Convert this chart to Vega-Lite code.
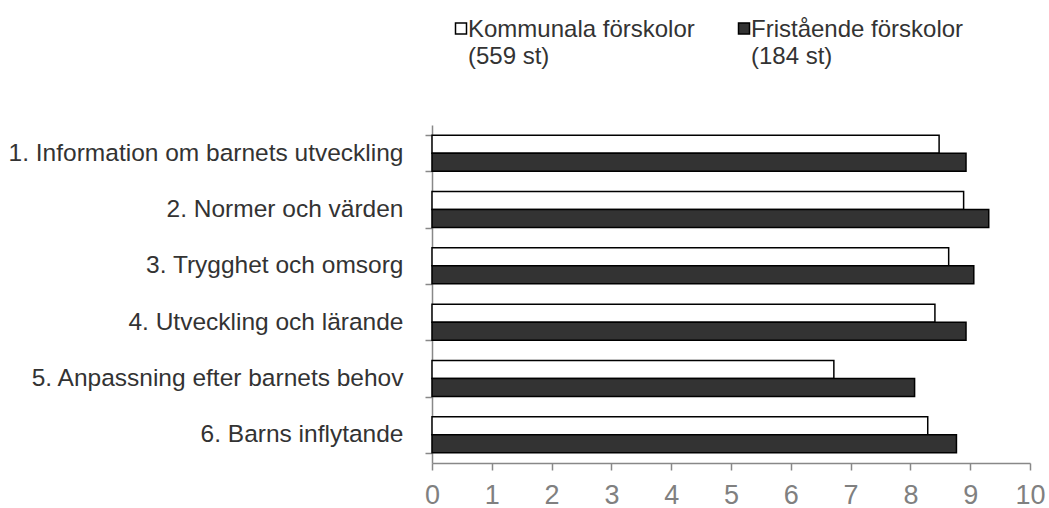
{
  "$schema": "https://vega.github.io/schema/vega-lite/v6.json",
  "width": 598,
  "height": 338,
  "autosize": {"type": "none"},
  "padding": {"left": 432, "top": 125, "right": 19, "bottom": 45},
  "background": "white",
  "config": {
    "view": {"stroke": null},
    "style": {"guide-label": {"lineHeight": 27}}
  },
  "data": {
    "values": [
      {"kategori": "1. Information om barnets utveckling", "grupp": "Kommunala förskolor|(559 st)", "varde": 8.48},
      {"kategori": "1. Information om barnets utveckling", "grupp": "Fristående förskolor|(184 st)", "varde": 8.93},
      {"kategori": "2. Normer och värden", "grupp": "Kommunala förskolor|(559 st)", "varde": 8.89},
      {"kategori": "2. Normer och värden", "grupp": "Fristående förskolor|(184 st)", "varde": 9.31},
      {"kategori": "3. Trygghet och omsorg", "grupp": "Kommunala förskolor|(559 st)", "varde": 8.64},
      {"kategori": "3. Trygghet och omsorg", "grupp": "Fristående förskolor|(184 st)", "varde": 9.06},
      {"kategori": "4. Utveckling och lärande", "grupp": "Kommunala förskolor|(559 st)", "varde": 8.41},
      {"kategori": "4. Utveckling och lärande", "grupp": "Fristående förskolor|(184 st)", "varde": 8.93},
      {"kategori": "5. Anpassning efter barnets behov", "grupp": "Kommunala förskolor|(559 st)", "varde": 6.72},
      {"kategori": "5. Anpassning efter barnets behov", "grupp": "Fristående förskolor|(184 st)", "varde": 8.07},
      {"kategori": "6. Barns inflytande", "grupp": "Kommunala förskolor|(559 st)", "varde": 8.29},
      {"kategori": "6. Barns inflytande", "grupp": "Fristående förskolor|(184 st)", "varde": 8.77}
    ]
  },
  "mark": {"type": "bar", "stroke": "#000000", "strokeWidth": 1.5},
  "encoding": {
    "y": {
      "field": "kategori",
      "type": "nominal",
      "sort": null,
      "scale": {"paddingInner": 0.36, "paddingOuter": 0.18},
      "axis": {
        "title": null,
        "tickBand": "extent",
        "tickSize": 7,
        "tickColor": "#888888",
        "tickWidth": 1.5,
        "domainColor": "#888888",
        "domainWidth": 1.5,
        "labelFont": "Liberation Sans",
        "labelFontSize": 24.5,
        "labelColor": "#333333",
        "labelPadding": 22,
        "labelLimit": 500
      }
    },
    "yOffset": {
      "field": "grupp",
      "type": "nominal",
      "sort": ["Kommunala förskolor|(559 st)", "Fristående förskolor|(184 st)"]
    },
    "x": {
      "field": "varde",
      "type": "quantitative",
      "scale": {"domain": [0, 10], "nice": false},
      "axis": {
        "title": null,
        "values": [0, 1, 2, 3, 4, 5, 6, 7, 8, 9, 10],
        "grid": false,
        "tickSize": 7,
        "tickColor": "#888888",
        "tickWidth": 1.5,
        "domainColor": "#888888",
        "domainWidth": 1.5,
        "labelFont": "Liberation Sans",
        "labelFontSize": 27,
        "labelColor": "#808080",
        "labelPadding": 12,
        "labelFlush": false
      }
    },
    "fill": {
      "field": "grupp",
      "type": "nominal",
      "sort": ["Kommunala förskolor|(559 st)", "Fristående förskolor|(184 st)"],
      "scale": {
        "domain": ["Kommunala förskolor|(559 st)", "Fristående förskolor|(184 st)"],
        "range": ["#ffffff", "#333333"]
      },
      "legend": {
        "title": null,
        "orient": "none",
        "legendX": 17,
        "legendY": -100,
        "direction": "horizontal",
        "columns": 2,
        "columnPadding": 37,
        "labelExpr": "split(datum.label, '|')",
        "labelFont": "Liberation Sans",
        "labelFontSize": 24,
        "labelColor": "#333333",
        "labelLimit": 400,
        "labelBaseline": "alphabetic",
        "labelOffset": -5,
        "symbolType": "M-1,-2.56H1V-0.56H-1Z",
        "symbolSize": 121,
        "symbolStrokeColor": "#000000",
        "symbolStrokeWidth": 1.5
      }
    }
  }
}
